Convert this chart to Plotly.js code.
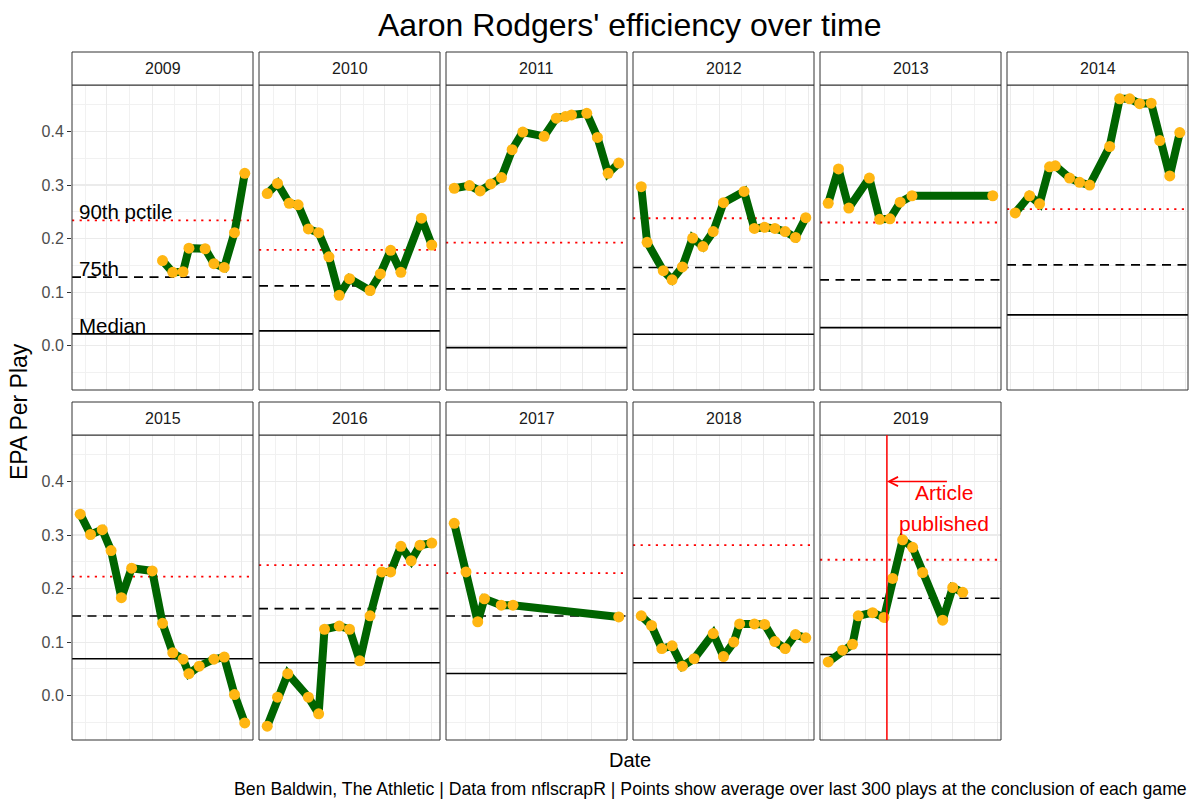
<!DOCTYPE html>
<html>
<head>
<meta charset="utf-8">
<script src="https://cdn.plot.ly/plotly-3.0.1.min.js"></script>
<style>
  html, body { margin: 0; padding: 0; background: #ffffff; }
  #chart { width: 1200px; height: 810px; }
</style>
</head>
<body>
<div id="chart"></div>
<script>
// ---------------- DATA ----------------
const seasons = [2009, 2010, 2011, 2012, 2013, 2014, 2015, 2016, 2017, 2018, 2019];

const dates2009 = ['2009-11-08','2009-11-15','2009-11-22','2009-11-26','2009-12-07','2009-12-13','2009-12-20','2009-12-27','2010-01-03'];
const epa2009   = [0.159, 0.137, 0.138, 0.182, 0.181, 0.153, 0.146, 0.211, 0.322];

const dates2010 = ['2010-09-12','2010-09-19','2010-09-27','2010-10-03','2010-10-10','2010-10-17','2010-10-24','2010-10-31','2010-11-07','2010-11-21','2010-11-28','2010-12-05','2010-12-12','2010-12-26','2011-01-02'];
const epa2010   = [0.284, 0.303, 0.266, 0.263, 0.218, 0.211, 0.166, 0.094, 0.125, 0.103, 0.134, 0.178, 0.137, 0.238, 0.188];

const dates2011 = ['2011-09-08','2011-09-18','2011-09-25','2011-10-02','2011-10-09','2011-10-16','2011-10-23','2011-11-06','2011-11-14','2011-11-20','2011-11-24','2011-12-04','2011-12-11','2011-12-18','2011-12-25'];
const epa2011   = [0.294, 0.299, 0.289, 0.302, 0.314, 0.366, 0.399, 0.391, 0.425, 0.428, 0.431, 0.434, 0.389, 0.322, 0.341];

const dates2012 = ['2012-09-09','2012-09-13','2012-09-24','2012-09-30','2012-10-07','2012-10-14','2012-10-21','2012-10-28','2012-11-04','2012-11-18','2012-11-25','2012-12-02','2012-12-09','2012-12-16','2012-12-23','2012-12-30'];
const epa2012   = [0.297, 0.193, 0.140, 0.123, 0.147, 0.201, 0.185, 0.213, 0.267, 0.288, 0.219, 0.221, 0.219, 0.213, 0.202, 0.239];

const dates2013 = ['2013-09-08','2013-09-15','2013-09-22','2013-10-06','2013-10-13','2013-10-20','2013-10-27','2013-11-04','2013-12-29'];
const epa2013   = [0.266, 0.330, 0.257, 0.313, 0.236, 0.237, 0.268, 0.280, 0.280];

const dates2014 = ['2014-09-04','2014-09-14','2014-09-21','2014-09-28','2014-10-02','2014-10-12','2014-10-19','2014-10-26','2014-11-09','2014-11-16','2014-11-23','2014-11-30','2014-12-08','2014-12-14','2014-12-21','2014-12-28'];
const epa2014   = [0.248, 0.280, 0.265, 0.334, 0.336, 0.313, 0.305, 0.300, 0.372, 0.461, 0.461, 0.452, 0.453, 0.383, 0.317, 0.398];

const dates2015 = ['2015-09-13','2015-09-20','2015-09-28','2015-10-04','2015-10-11','2015-10-18','2015-11-01','2015-11-08','2015-11-15','2015-11-22','2015-11-26','2015-12-03','2015-12-13','2015-12-20','2015-12-27','2016-01-03'];
const epa2015   = [0.339, 0.301, 0.310, 0.271, 0.183, 0.238, 0.233, 0.135, 0.080, 0.068, 0.041, 0.055, 0.068, 0.072, 0.002, -0.051];

const dates2016 = ['2016-09-11','2016-09-18','2016-09-25','2016-10-09','2016-10-16','2016-10-20','2016-10-30','2016-11-06','2016-11-13','2016-11-20','2016-11-28','2016-12-04','2016-12-11','2016-12-18','2016-12-24','2017-01-01'];
const epa2016   = [-0.057, -0.003, 0.041, -0.003, -0.034, 0.124, 0.130, 0.124, 0.065, 0.149, 0.231, 0.231, 0.279, 0.252, 0.281, 0.285];

const dates2017 = ['2017-09-10','2017-09-17','2017-09-24','2017-09-28','2017-10-08','2017-10-15','2017-12-17'];
const epa2017   = [0.322, 0.231, 0.138, 0.181, 0.169, 0.169, 0.147];

const dates2018 = ['2018-09-09','2018-09-16','2018-09-23','2018-09-30','2018-10-07','2018-10-15','2018-10-28','2018-11-04','2018-11-11','2018-11-15','2018-11-25','2018-12-02','2018-12-09','2018-12-16','2018-12-23','2018-12-30'];
const epa2018   = [0.149, 0.131, 0.088, 0.093, 0.055, 0.069, 0.116, 0.073, 0.100, 0.134, 0.134, 0.133, 0.101, 0.088, 0.114, 0.108];

const dates2019 = ['2019-09-05','2019-09-15','2019-09-22','2019-09-26','2019-10-06','2019-10-14','2019-10-20','2019-10-27','2019-11-03','2019-11-10','2019-11-24','2019-12-01','2019-12-08'];
const epa2019   = [0.063, 0.085, 0.096, 0.149, 0.155, 0.146, 0.219, 0.291, 0.277, 0.230, 0.141, 0.202, 0.193];

// league benchmarks per season
const pct90  = [0.234, 0.179, 0.1925, 0.238, 0.230, 0.255, 0.2225, 0.2437, 0.2287, 0.2812, 0.2538];
const pct75  = [0.128, 0.1116, 0.106, 0.146, 0.1228, 0.1508, 0.1488, 0.1625, 0.1488, 0.1818, 0.1818];
const median = [0.022, 0.0275, -0.0037, 0.0213, 0.0336, 0.0574, 0.0688, 0.0613, 0.0412, 0.0613, 0.0769];
const benchLabels = ['90th pctile', '75th', 'Median'];

// first / last game of each season (x scale of each facet)
const seasonStart = ['2009-09-13','2010-09-12','2011-09-08','2012-09-09','2013-09-08','2014-09-04','2015-09-13','2016-09-11','2017-09-10','2018-09-09','2019-09-05'];
const seasonEnd   = ['2010-01-03','2011-01-02','2011-12-25','2012-12-30','2013-12-29','2014-12-28','2016-01-03','2017-01-01','2017-12-17','2018-12-30','2019-12-29'];

// article annotation (2019)
const articleDate = '2019-10-16';
const articleArrowY = 0.40;
const articleArrowTail = '2019-11-28';
const articleTextDate = '2019-11-25';
const articleTextLines = ['Article', 'published'];
const articleTextY = [0.379, 0.321];

const titleText = "Aaron Rodgers' efficiency over time";
const xTitle = 'Date';
const yTitle = 'EPA Per Play';
const caption = 'Ben Baldwin, The Athletic | Data from nflscrapR | Points show average over last 300 plays at the conclusion of each game';

// ---------------- BUILD ----------------
const allDates = [dates2009, dates2010, dates2011, dates2012, dates2013, dates2014, dates2015, dates2016, dates2017, dates2018, dates2019];
const allEpa   = [epa2009, epa2010, epa2011, epa2012, epa2013, epa2014, epa2015, epa2016, epa2017, epa2018, epa2019];

const W = 1200, H = 810;
const FONT = 'Liberation Sans, Arial, Helvetica, sans-serif';
const panelW = 181, colStep = 187, firstLeft = 72;
const rowTop = [85, 435], panelH = 305, stripH = 33;

function toMs(s) { const p = s.split('-').map(Number); return Date.UTC(p[0], p[1] - 1, p[2]); }
function fmt(ms) { return new Date(ms).toISOString().slice(0, 19).replace('T', ' '); }

// y range like ggplot (5% expansion of the data incl. benchmark lines)
const yVals = [].concat(...allEpa, pct90, pct75, median);
const yMin = Math.min(...yVals), yMax = Math.max(...yVals);
const yPad = (yMax - yMin) * 0.05;
const yRange = [yMin - yPad, yMax + yPad];

const traces = [];
const layout = {
  width: W, height: H,
  margin: { l: 0, r: 0, t: 0, b: 0 },
  paper_bgcolor: '#ffffff',
  plot_bgcolor: '#ffffff',
  showlegend: false,
  font: { family: FONT, color: '#000000' },
  shapes: [],
  annotations: []
};

seasons.forEach((season, i) => {
  const row = i < 6 ? 0 : 1;
  const col = i < 6 ? i : i - 6;
  const sfx = i === 0 ? '' : String(i + 1);
  const xa = 'x' + sfx, ya = 'y' + sfx;
  const left = firstLeft + col * colStep;
  const top = rowTop[row];

  const s = toMs(seasonStart[i]), e = toMs(seasonEnd[i]);
  const pad = (e - s) * 0.05;
  const xr = [fmt(s - pad), fmt(e + pad)];

  layout['xaxis' + sfx] = {
    domain: [left / W, (left + panelW) / W],
    anchor: ya, type: 'date', range: xr, fixedrange: true,
    showticklabels: false, ticks: '', showline: false, zeroline: false,
    tickmode: 'linear', tick0: '2000-01-01', dtick: 'M1',
    showgrid: true, gridcolor: '#ebebeb', gridwidth: 1.1,
    minor: { tickmode: 'linear', tick0: '2000-01-16 12:00', dtick: 'M1', showgrid: true, gridcolor: '#f1f1f1', gridwidth: 1, ticks: '' }
  };
  layout['yaxis' + sfx] = {
    domain: [1 - (top + panelH) / H, 1 - top / H],
    anchor: xa, range: yRange, fixedrange: true,
    tickmode: 'linear', tick0: 0, dtick: 0.1, tickformat: '.1f',
    showticklabels: col === 0, ticks: col === 0 ? 'outside' : '',
    ticklen: 4, tickwidth: 1, tickcolor: '#333333',
    tickfont: { family: FONT, size: 16, color: '#4d4d4d' },
    showline: false, zeroline: false,
    showgrid: true, gridcolor: '#ebebeb', gridwidth: 1.1,
    minor: { tickmode: 'linear', tick0: 0.05, dtick: 0.1, showgrid: true, gridcolor: '#f1f1f1', gridwidth: 1, ticks: '' }
  };

  // benchmark lines
  const xEnds = [xr[0], xr[1]];
  traces.push({ x: xEnds, y: [median[i], median[i]], xaxis: xa, yaxis: ya, mode: 'lines', hoverinfo: 'skip',
    line: { color: '#000000', width: 1.6 } });
  traces.push({ x: xEnds, y: [pct75[i], pct75[i]], xaxis: xa, yaxis: ya, mode: 'lines', hoverinfo: 'skip',
    line: { color: '#000000', width: 1.6, dash: '9px,6.5px' } });
  traces.push({ x: xEnds, y: [pct90[i], pct90[i]], xaxis: xa, yaxis: ya, mode: 'lines', hoverinfo: 'skip',
    line: { color: '#ff0000', width: 1.8, dash: '2.2px,5.4px' } });

  // Rodgers' rolling EPA
  traces.push({ x: allDates[i], y: allEpa[i], xaxis: xa, yaxis: ya, mode: 'lines+markers', hoverinfo: 'skip',
    line: { color: '#006400', width: 8 },
    marker: { color: '#FFB612', size: 11, line: { width: 0 } } });

  // panel border
  layout.shapes.push({ type: 'rect', xref: xa + ' domain', yref: ya + ' domain', x0: 0, x1: 1, y0: 0, y1: 1,
    line: { color: '#333333', width: 1 }, fillcolor: 'rgba(0,0,0,0)', layer: 'above' });
  // strip
  layout.shapes.push({ type: 'rect', xref: xa + ' domain', yref: ya + ' domain', x0: 0, x1: 1, y0: 1, y1: 1 + stripH / panelH,
    line: { color: '#333333', width: 1 }, fillcolor: '#ffffff', layer: 'above' });
  layout.annotations.push({ xref: xa + ' domain', yref: ya + ' domain', x: 0.5, y: 1 + stripH / 2 / panelH,
    xanchor: 'center', yanchor: 'middle', showarrow: false, text: String(season),
    font: { family: FONT, size: 16, color: '#1a1a1a' } });

  if (i === 0) {
    [pct90[i], pct75[i], median[i]].forEach((v, k) => {
      layout.annotations.push({ xref: xa, yref: ya, x: seasonStart[i], y: v, xanchor: 'left', yanchor: 'bottom',
        xshift: -3, yshift: -5, showarrow: false, text: benchLabels[k],
        font: { family: FONT, size: 20.5, color: '#000000' } });
    });
  }

  if (season === 2019) {
    layout.shapes.push({ type: 'line', xref: xa, yref: ya + ' domain', x0: articleDate, x1: articleDate, y0: 0, y1: 1,
      line: { color: '#ff0000', width: 1.5 }, layer: 'above' });
    layout.annotations.push({ xref: xa, yref: ya, axref: xa, ayref: ya, x: articleDate, y: articleArrowY,
      ax: articleArrowTail, ay: articleArrowY, text: '', showarrow: true, arrowhead: 5, arrowsize: 1.2,
      arrowwidth: 1.5, arrowcolor: '#ff0000', standoff: 0, startstandoff: 0 });
    articleTextLines.forEach((t, k) => {
      layout.annotations.push({ xref: xa, yref: ya, x: articleTextDate, y: articleTextY[k], xanchor: 'center', yanchor: 'middle',
        showarrow: false, text: t, font: { family: FONT, size: 21, color: '#ff0000' } });
    });
  }
});

// titles
layout.annotations.push({ xref: 'paper', yref: 'paper', x: 630 / W, y: 1 - 25 / H, xanchor: 'center', yanchor: 'middle',
  showarrow: false, text: titleText, font: { family: FONT, size: 32, color: '#000000' } });
layout.annotations.push({ xref: 'paper', yref: 'paper', x: 630 / W, y: 1 - 760 / H, xanchor: 'center', yanchor: 'middle',
  showarrow: false, text: xTitle, font: { family: FONT, size: 20, color: '#000000' } });
layout.annotations.push({ xref: 'paper', yref: 'paper', x: 19 / W, y: 1 - 412 / H, xanchor: 'center', yanchor: 'middle',
  showarrow: false, text: yTitle, textangle: -90, font: { family: FONT, size: 23, color: '#000000' } });
layout.annotations.push({ xref: 'paper', yref: 'paper', x: 1189 / W, y: 1 - 789 / H, xanchor: 'right', yanchor: 'middle',
  showarrow: false, text: caption, font: { family: FONT, size: 17.7, color: '#000000' } });

Plotly.newPlot('chart', traces, layout, { staticPlot: true, displayModeBar: false });
</script>
</body>
</html>
